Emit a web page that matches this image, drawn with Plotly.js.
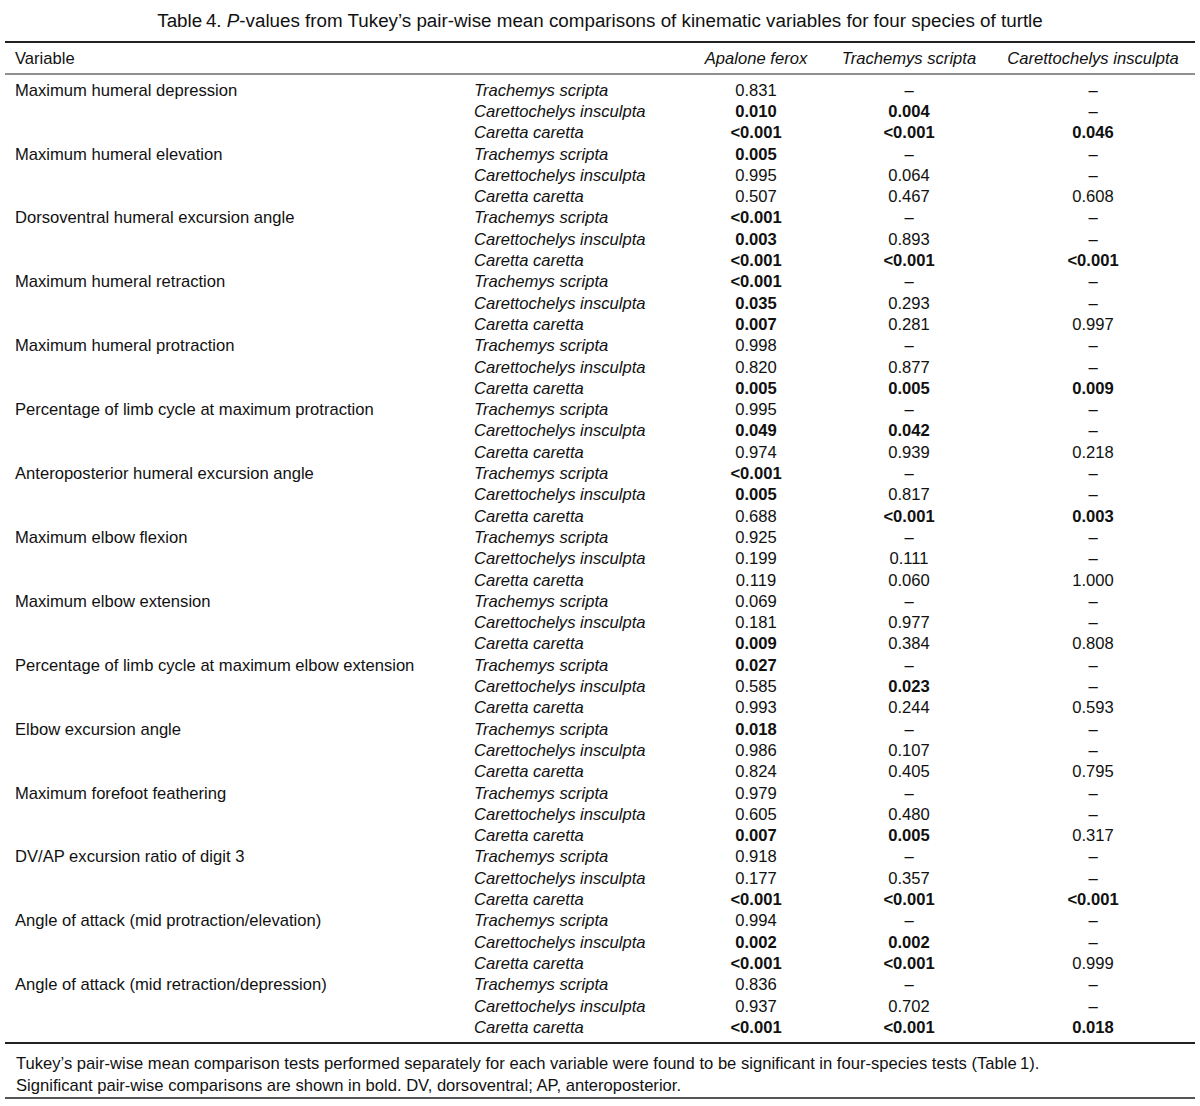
<!DOCTYPE html>
<html>
<head>
<meta charset="utf-8">
<script src="https://cdn.plot.ly/plotly-3.0.1.min.js"></script>
<style>html,body{margin:0;padding:0;background:#fff;}#chart{width:1200px;height:1106px;}</style>
</head>
<body>
<div id="chart"></div>
<script>
// ---- data ----
const titleText = "Table\u20094. <i>P</i>-values from Tukey\u2019s pair-wise mean comparisons of kinematic variables for four species of turtle";
const variables = [
  "Maximum humeral depression",
  "Maximum humeral elevation",
  "Dorsoventral humeral excursion angle",
  "Maximum humeral retraction",
  "Maximum humeral protraction",
  "Percentage of limb cycle at maximum protraction",
  "Anteroposterior humeral excursion angle",
  "Maximum elbow flexion",
  "Maximum elbow extension",
  "Percentage of limb cycle at maximum elbow extension",
  "Elbow excursion angle",
  "Maximum forefoot feathering",
  "DV/AP excursion ratio of digit 3",
  "Angle of attack (mid protraction/elevation)",
  "Angle of attack (mid retraction/depression)"
];
const comparators = ["Trachemys scripta", "Carettochelys insculpta", "Caretta caretta"];
const variableHeader = "Variable";
const speciesHeaders = ["Apalone ferox", "Trachemys scripta", "Carettochelys insculpta"];

const apalone = [
  "0.831","0.010","<0.001",
  "0.005","0.995","0.507",
  "<0.001","0.003","<0.001",
  "<0.001","0.035","0.007",
  "0.998","0.820","0.005",
  "0.995","0.049","0.974",
  "<0.001","0.005","0.688",
  "0.925","0.199","0.119",
  "0.069","0.181","0.009",
  "0.027","0.585","0.993",
  "0.018","0.986","0.824",
  "0.979","0.605","0.007",
  "0.918","0.177","<0.001",
  "0.994","0.002","<0.001",
  "0.836","0.937","<0.001"
];
const apaloneBold = [
  0,1,1, 1,0,0, 1,1,1, 1,1,1, 0,0,1, 0,1,0, 1,1,0, 0,0,0, 0,0,1, 1,0,0, 1,0,0, 0,0,1, 0,0,1, 0,1,1, 0,0,1
];
const trachemys = [
  "\u2013","0.004","<0.001",
  "\u2013","0.064","0.467",
  "\u2013","0.893","<0.001",
  "\u2013","0.293","0.281",
  "\u2013","0.877","0.005",
  "\u2013","0.042","0.939",
  "\u2013","0.817","<0.001",
  "\u2013","0.111","0.060",
  "\u2013","0.977","0.384",
  "\u2013","0.023","0.244",
  "\u2013","0.107","0.405",
  "\u2013","0.480","0.005",
  "\u2013","0.357","<0.001",
  "\u2013","0.002","<0.001",
  "\u2013","0.702","<0.001"
];
const trachemysBold = [
  0,1,1, 0,0,0, 0,0,1, 0,0,0, 0,0,1, 0,1,0, 0,0,1, 0,0,0, 0,0,0, 0,1,0, 0,0,0, 0,0,1, 0,0,1, 0,1,1, 0,0,1
];
const carettochelys = [
  "\u2013","\u2013","0.046",
  "\u2013","\u2013","0.608",
  "\u2013","\u2013","<0.001",
  "\u2013","\u2013","0.997",
  "\u2013","\u2013","0.009",
  "\u2013","\u2013","0.218",
  "\u2013","\u2013","0.003",
  "\u2013","\u2013","1.000",
  "\u2013","\u2013","0.808",
  "\u2013","\u2013","0.593",
  "\u2013","\u2013","0.795",
  "\u2013","\u2013","0.317",
  "\u2013","\u2013","<0.001",
  "\u2013","\u2013","0.999",
  "\u2013","\u2013","0.018"
];
const carettochelysBold = [
  0,0,1, 0,0,0, 0,0,1, 0,0,0, 0,0,1, 0,0,0, 0,0,1, 0,0,0, 0,0,0, 0,0,0, 0,0,0, 0,0,0, 0,0,1, 0,0,0, 0,0,1
];
const footnotes = [
  "Tukey\u2019s pair-wise mean comparison tests performed separately for each variable were found to be significant in four-species tests (Table\u20091).",
  "Significant pair-wise comparisons are shown in bold. DV, dorsoventral; AP, anteroposterior."
];

// ---- layout constants ----
const W = 1200, H = 1106;
const FONT = "Liberation Sans, Arial, Helvetica, sans-serif";
const FS = 16.6;
const INK = "#111";
const firstRowY = 91.5, rowPitch = 21.3, headerY = 59.5;
// x anchors (axis units = pixels)
const xVar = 15, xCmp = 474, xCols = [756, 909, 1093];

// ---- build traces ----
const esc = s => s.replace(/&/g, "&amp;").replace(/</g, "&lt;");
const fmt = (vals, bold) => vals.map((v, i) => bold[i] ? "<b>" + esc(v) + "</b>" : esc(v));
const nRows = variables.length * comparators.length;
const rowIdx = Array.from({length: nRows}, (_, i) => i);
const varRows = variables.map((_, i) => i * comparators.length);
const cmpText = rowIdx.map(i => "<i>" + comparators[i % comparators.length] + "</i>");
const headerRow = -(firstRowY - headerY) / rowPitch;

const txt = (x, y, text, pos) => ({
  type: "scatter", mode: "text", x: x, y: y, text: text, textposition: pos,
  textfont: {family: FONT, size: FS, color: INK}, hoverinfo: "skip", showlegend: false, cliponaxis: false
});

const traces = [
  txt(varRows.map(() => xVar), varRows, variables, "middle right"),
  txt(rowIdx.map(() => xCmp), rowIdx, cmpText, "middle right"),
  txt(rowIdx.map(() => xCols[0]), rowIdx, fmt(apalone, apaloneBold), "middle center"),
  txt(rowIdx.map(() => xCols[1]), rowIdx, fmt(trachemys, trachemysBold), "middle center"),
  txt(rowIdx.map(() => xCols[2]), rowIdx, fmt(carettochelys, carettochelysBold), "middle center"),
  txt([xVar], [headerRow], [variableHeader], "middle right"),
  txt(xCols, xCols.map(() => headerRow), speciesHeaders.map(s => "<i>" + s + "</i>"), "middle center")
];

const py = y => 1 - y / H;
const px = x => x / W;
const hline = (y, w, c) => ({type: "line", xref: "paper", yref: "paper", x0: px(5), x1: px(1195), y0: py(y), y1: py(y), line: {color: c || "#222", width: w}});

const layout = {
  width: W, height: H,
  margin: {l: 0, r: 0, t: 0, b: 0},
  paper_bgcolor: "#fff", plot_bgcolor: "#fff",
  font: {family: FONT, size: FS, color: INK},
  xaxis: {range: [0, W], visible: false, fixedrange: true},
  yaxis: {range: [(H - firstRowY) / rowPitch, -firstRowY / rowPitch], visible: false, fixedrange: true},
  title: {text: titleText, x: 0.5, xanchor: "center", xref: "paper", y: py(20.5), yanchor: "middle", yref: "container",
          font: {family: FONT, size: 18.8, color: INK}},
  shapes: [hline(42, 2), hline(74, 1.2), hline(1043, 1.8), hline(1098, 1.8, "#555")],
  annotations: footnotes.map((t, i) => ({
    text: t, xref: "paper", yref: "paper", x: px(14), y: py(1063 + i * 22), xanchor: "left", yanchor: "middle",
    showarrow: false, align: "left", font: {family: FONT, size: FS, color: INK}
  }))
};

Plotly.newPlot("chart", traces, layout, {displayModeBar: false, staticPlot: true});
</script>
</body>
</html>
